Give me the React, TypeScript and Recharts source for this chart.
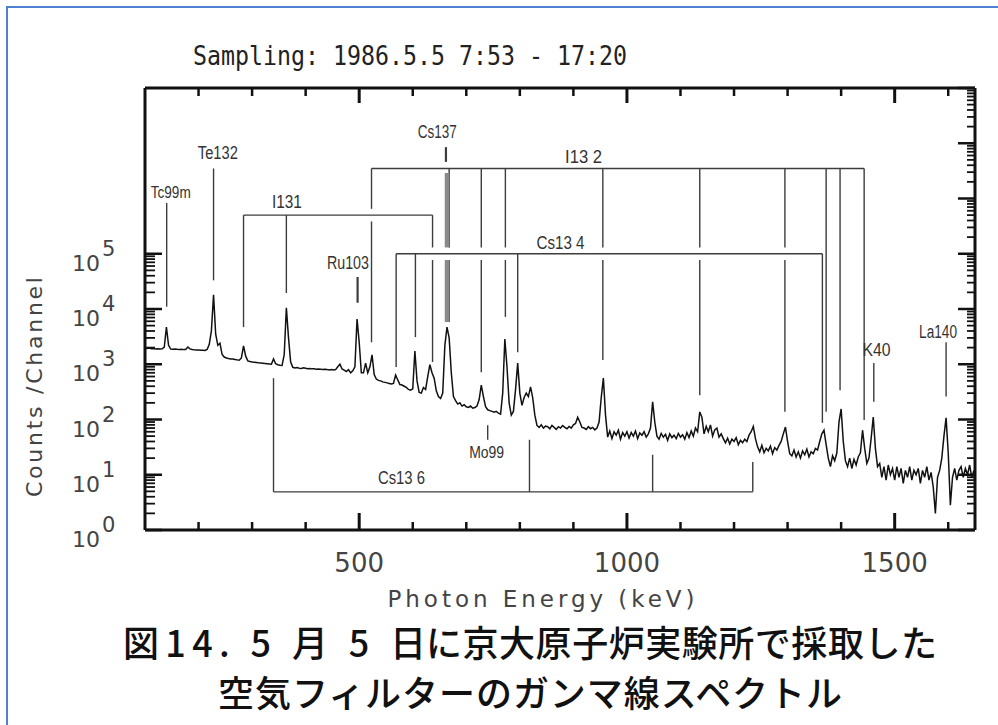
import React from 'react';
import { ComposedChart, Line, XAxis, YAxis, ReferenceLine, ReferenceDot } from 'recharts';

// ---------------- data ----------------
const STEP_KEV = 4;
const bandStarts = [100, 500, 1000, 1500];

// 100 – 496 keV
const countsLow = [
  1950, 1930, 1960, 1900, 1920, 1880, 1900, 1890, 1910, 2050, 4700, 2200,
  1880, 1870, 1890, 1860, 1850, 1870, 1840, 1850, 2050, 1900,
  1850, 1830, 1820, 1810, 1800, 1790, 1780,
  1850, 2300, 4000, 18000, 3500, 2200, 2400, 1500, 1350,
  1300, 1270, 1250, 1240, 1220, 1200, 1180,
  1300, 2150, 1400, 1150,
  1120, 1100, 1090, 1080, 1060, 1050, 1040, 1030, 1020, 1010, 1000,
  1250, 1020, 980, 960, 950,
  1500, 10500, 3000, 1100, 880, 860,
  870, 850, 840, 860, 845, 830, 840, 825, 830, 815, 820, 810, 800, 815, 800, 790, 805, 790, 800,
  900, 1000, 820, 780, 740, 800, 700, 760, 900, 6600,
];
// 500 – 996 keV
const countsMid = [
  2500, 700, 700, 1050, 700, 900, 1480, 650, 540,
  510, 500, 480, 470, 460, 450, 440, 450,
  640, 520, 430,
  420, 400, 380, 350, 340, 360,
  1740, 500, 310,
  300, 380, 350, 600, 980, 700, 560, 330, 260, 240, 300,
  2200, 4700, 3000, 700, 260,
  220, 190, 200, 175, 185, 170, 165, 175, 160, 165, 175,
  230, 420, 260, 170,
  150, 145, 140, 135, 140, 130, 125,
  300, 2870, 900, 200, 120,
  140, 350, 1050, 300, 180,
  250, 300, 260, 390, 250, 120,
  78, 72, 80, 70, 76, 74, 68, 78, 72, 66, 74, 70, 78, 72, 68, 75, 70, 80, 85, 110,
  90, 72, 70, 66, 74, 68, 72, 65, 70, 90,
  250, 560, 120,
  48, 62, 45, 60, 52, 64, 44, 58, 50,
];
// 1000 – 1496 keV
const countsHigh = [
  60, 46, 58, 50, 62, 45, 57, 52, 60, 48, 55, 70,
  208, 90, 50,
  44, 56, 48, 54, 42, 55, 47, 52, 45, 56, 48, 53, 44, 58, 47, 62, 50, 70, 60,
  137, 110, 55, 75, 60, 80, 50, 65, 70, 48, 55,
  45, 38, 46, 36, 44, 40, 47, 35, 42, 38, 44, 40, 52,
  60, 75, 45,
  32, 26, 34, 25, 30, 27, 33, 24, 31, 28, 34, 40,
  55, 73, 40, 24,
  22, 28, 21, 26, 20, 27, 23, 29, 21, 26, 24, 30, 28,
  40, 55, 64, 35, 20, 14, 22, 18, 25,
  90, 155, 40, 18,
  14, 20, 13, 19, 15, 21, 25,
  64, 30, 16, 20, 45, 111, 30, 14,
  16, 9, 14, 8, 15, 10, 13,
];
// 1500 – 1648 keV
const countsTop = [
  8, 14, 9, 13, 7, 12, 9, 14, 8, 12, 10, 13, 7, 12, 9, 14, 8, 11, 6, 2,
  9, 12, 20, 50, 107, 25, 2.8, 9, 13, 8, 12, 14, 9, 13, 10, 15, 9, 12,
];

const xTicks = [200, 300, 400, 500, 600, 700, 800, 900, 1000, 1100, 1200, 1300, 1400, 1500, 1600];
const decadeValues = [1, 10, 100, 1000, 10000, 100000, 1000000, 10000000, 100000000];
const minorMultipliers = [2, 3, 4, 5, 6, 7, 8, 9];

// single-line nuclide markers: energy (keV), lower and upper counts
const singleLines = [
  { name: 'Tc99m', e: 140.5, lo: 1.1e4, hi: 8.3e5 },
  { name: 'Te132', e: 228, lo: 3.3e4, hi: 3.5e6 },
  { name: 'Ru103', e: 497, lo: 1.3e4, hi: 3.8e4 },
  { name: 'Cs137', e: 662, lo: 4.6e6, hi: 8.5e6 },
  { name: 'Mo99', e: 740, lo: 43, hi: 79 },
  { name: 'K40', e: 1461, lo: 210, hi: 1050 },
  { name: 'La140', e: 1596, lo: 260, hi: 2500 },
];
const cs137Band = { e: 664, lo: 5.8e3, hi: 2.9e6 };

// bracket legs: [energy keV, end counts]
const i131Legs: [number, number][] = [[284, 4.7e3], [364, 1.95e4], [637, 1.1e3]];
const i132Legs: [number, number][] = [
  [523, 2.5e3], [668, 5.8e3], [728, 720], [773, 7.2e3], [955, 1.2e3],
  [1136, 275], [1295, 138], [1372, 138], [1398, 340], [1443, 98],
];
const cs134Legs: [number, number][] = [[569, 890], [605, 3.1e3], [796, 1.65e3], [1365, 87]];
const cs136Legs: [number, number][] = [[340, 560], [818, 43], [1048, 23], [1235, 17]];
const bracketLevels = { i131: 5.0e5, i132: 3.5e6, cs134: 1.0e5, cs136: 4.9 };

// label anchors (keV, counts)
const peakLabels = [
  { text: 'Tc99m', e: 148, c: 1.31e6 },
  { text: 'Te132', e: 236, c: 6.66e6 },
  { text: 'I131', e: 365, c: 8.65e5 },
  { text: 'Cs137', e: 646, c: 1.6e7 },
  { text: 'Ru103', e: 479, c: 6.8e4 },
  { text: 'I13 2', e: 919, c: 5.64e6 },
  { text: 'Cs13 4', e: 876, c: 1.57e5 },
  { text: 'K40', e: 1466, c: 1.81e3 },
  { text: 'La140', e: 1581, c: 3.84e3 },
  { text: 'Cs13 6', e: 579, c: 8.73 },
  { text: 'Mo99', e: 738, c: 25.8 },
];

// ---------------- styles ----------------
const labelWidths: Record<string, number> = {
  'Tc99m': 40, 'Te132': 40, 'I131': 30, 'Cs137': 39, 'Ru103': 42, 'I13 2': 37,
  'Cs13 4': 48, 'K40': 28, 'La140': 38, 'Cs13 6': 47, 'Mo99': 35,
};
const labelSizes: Record<string, number> = { 'Tc99m': 16, 'Mo99': 16 };
const FRAME = '#111';
const ANN = '#3c3c3c';
const TICK_FONT = "'DejaVu Sans', 'Liberation Sans', sans-serif";
const LABEL_FONT = "'Liberation Sans Narrow', 'Liberation Sans', sans-serif";

// ---------------- derived ----------------
const spectrum: { e: number; c: number }[] = [];
[countsLow, countsMid, countsHigh, countsTop].forEach((arr, k) => {
  arr.forEach((c, i) => spectrum.push({ e: bandStarts[k] + i * STEP_KEV, c }));
});

const leftTicks: number[] = [];
const rightTicks: number[] = [];
decadeValues.forEach((d, k) => {
  if (k <= 5) leftTicks.push(d);
  rightTicks.push(d);
  if (k < decadeValues.length - 1) {
    minorMultipliers.forEach((m) => {
      if (k <= 4) leftTicks.push(d * m);
      rightTicks.push(d * m);
    });
  }
});
const isDecade = (v: number) => decadeValues.some((d) => Math.abs(d - v) < d * 1e-6);

type Bracket = { key: string; level: number; legs: [number, number][]; from: number; to: number };
const mkBracket = (key: string, level: number, legs: [number, number][]): Bracket => ({
  key, level, legs,
  from: Math.min(...legs.map((l) => l[0])),
  to: Math.max(...legs.map((l) => l[0])),
});
const brackets: Bracket[] = [
  mkBracket('i131', bracketLevels.i131, i131Legs),
  mkBracket('i132', bracketLevels.i132, i132Legs),
  mkBracket('cs134', bracketLevels.cs134, cs134Legs),
  mkBracket('cs136', bracketLevels.cs136, cs136Legs),
];
const GAP = 1.3;
function legPieces(e: number, v1: number, v2: number, self: Bracket | null): [number, number][] {
  const lo = Math.min(v1, v2);
  const hi = Math.max(v1, v2);
  const cuts = brackets
    .filter((o) => o !== self && o.from < e && e < o.to && o.level > lo && o.level < hi)
    .map((o) => o.level)
    .sort((a, b) => a - b);
  const pieces: [number, number][] = [];
  let start = lo;
  cuts.forEach((c) => {
    pieces.push([start, c / GAP]);
    start = c * GAP;
  });
  pieces.push([start, hi]);
  return pieces;
}

// ---------------- ticks ----------------
function BottomTick(props: any) {
  const { x, y, payload } = props;
  const v = payload.value;
  const major = v % 500 === 0;
  return (
    <g>
      <line x1={x} y1={y} x2={x} y2={y - (major ? 17 : 8)} stroke={FRAME} strokeWidth={major ? 3 : 2.5} />
      {major ? (
        <text x={x} y={y + 42} textAnchor="middle" fontSize={26} fill="#444" fontFamily={TICK_FONT}>
          {v}
        </text>
      ) : null}
    </g>
  );
}
function TopTick(props: any) {
  const { x, y, payload } = props;
  const major = payload.value % 500 === 0;
  return <line x1={x} y1={y} x2={x} y2={y + (major ? 15 : 8)} stroke={FRAME} strokeWidth={major ? 3 : 2.5} />;
}
function LeftTick(props: any) {
  const { x, y, payload } = props;
  const v = payload.value;
  const major = isDecade(v);
  const exp = Math.round(Math.log10(v));
  return (
    <g>
      <line x1={x} y1={y} x2={x + (major ? 17 : 10)} y2={y} stroke={FRAME} strokeWidth={major ? 2.5 : 1.8} />
      {major ? (
        <text x={x - 73} y={y + 17} fontSize={22} fill="#444" fontFamily={TICK_FONT}>
          10
          <tspan dx={2} dy={-15} fontSize={21}>{exp}</tspan>
        </text>
      ) : null}
    </g>
  );
}
function RightTick(props: any) {
  const { x, y, payload } = props;
  const major = isDecade(payload.value);
  return <line x1={x} y1={y} x2={x - (major ? 17 : 8)} y2={y} stroke={FRAME} strokeWidth={major ? 2.5 : 1.8} />;
}

const seg = (e: number, a: number, b: number) => [{ x: e, y: a }, { x: e, y: b }] as any;

export default function App() {
  const refs: React.ReactNode[] = [];
  let k = 0;
  // brackets
  brackets.forEach((b) => {
    refs.push(
      <ReferenceLine key={`h${k++}`} xAxisId="b" yAxisId="l" ifOverflow="visible"
        segment={[{ x: b.from, y: b.level }, { x: b.to, y: b.level }] as any}
        stroke={ANN} strokeWidth={1.4} />
    );
    b.legs.forEach(([e, end]) => {
      legPieces(e, b.level, end, b).forEach(([lo, hi]) => {
        refs.push(
          <ReferenceLine key={`l${k++}`} xAxisId="b" yAxisId="l" ifOverflow="visible"
            segment={seg(e, lo, hi)} stroke={ANN} strokeWidth={1.4} />
        );
      });
    });
  });
  // Cs137 thick band
  legPieces(cs137Band.e, cs137Band.lo, cs137Band.hi, null).forEach(([lo, hi]) => {
    refs.push(
      <ReferenceLine key={`c${k++}`} xAxisId="b" yAxisId="l" ifOverflow="visible"
        segment={seg(cs137Band.e, lo, hi)} stroke="#8a8a8a" strokeWidth={4.5} />
    );
  });
  singleLines.forEach((s) => {
    refs.push(
      <ReferenceLine key={`s${k++}`} xAxisId="b" yAxisId="l" ifOverflow="visible"
        segment={seg(s.e, s.lo, s.hi)} stroke={ANN} strokeWidth={s.name === 'Cs137' || s.name === 'Ru103' ? 2.2 : 1.4} />
    );
  });

  return (
    <div style={{ position: 'absolute', left: 0, top: 0, width: 998, height: 725, background: '#fff', overflow: 'hidden' }}>
      <div style={{ position: 'absolute', left: 6, top: 6, width: 1200, height: 1000, border: '2px solid #4f80d2', boxSizing: 'border-box' }} />
      <div style={{ position: 'absolute', left: 0, top: 0 }}>
        <ComposedChart width={998} height={725} data={spectrum} margin={{ top: 78, right: 13, bottom: 165, left: 85 }}>
          <XAxis xAxisId="b" dataKey="e" type="number" domain={[100, 1650]} allowDataOverflow ticks={xTicks} interval={0}
            tickSize={0} tickMargin={0} tickLine={false} axisLine={{ stroke: FRAME, strokeWidth: 3 }} tick={BottomTick} height={30} />
          <XAxis xAxisId="t" orientation="top" dataKey="e" type="number" domain={[100, 1650]} allowDataOverflow ticks={xTicks} interval={0}
            tickSize={0} tickMargin={0} tickLine={false} axisLine={{ stroke: FRAME, strokeWidth: 3 }} tick={TopTick} height={10} />
          <YAxis yAxisId="l" type="number" scale="log" domain={[1, 1e8]} allowDataOverflow ticks={leftTicks} interval={0}
            tickSize={0} tickMargin={0} tickLine={false} axisLine={{ stroke: FRAME, strokeWidth: 3 }} tick={LeftTick} width={60} />
          <YAxis yAxisId="r" orientation="right" type="number" scale="log" domain={[1, 1e8]} allowDataOverflow ticks={rightTicks} interval={0}
            tickSize={0} tickMargin={0} tickLine={false} axisLine={{ stroke: FRAME, strokeWidth: 3 }} tick={RightTick} width={10} />
          {refs}
          <Line xAxisId="b" yAxisId="l" dataKey="c" type="linear" stroke="#111" strokeWidth={1.5} dot={false} isAnimationActive={false} />
          {peakLabels.map((lab) => (
            <ReferenceDot key={lab.text} xAxisId="b" yAxisId="l" x={lab.e} y={lab.c} r={1} ifOverflow="visible"
              shape={(p: any) => (
                <text x={p.cx} y={p.cy} dy="0.36em" textAnchor="middle" fontSize={labelSizes[lab.text] || 18}
                  fill="#333" fontFamily={LABEL_FONT} textLength={labelWidths[lab.text]} lengthAdjust="spacingAndGlyphs">
                  {lab.text}
                </text>
              )} />
          ))}
        </ComposedChart>
      </div>
      <svg width={998} height={725} style={{ position: 'absolute', left: 0, top: 0, pointerEvents: 'none' }}>
        <text x={193} y={65} fontFamily="'DejaVu Sans Mono', monospace" fontSize={27} fill="#222"
          textLength={434} lengthAdjust="spacingAndGlyphs">Sampling: 1986.5.5 7:53 - 17:20</text>
        <text transform="translate(42,387) rotate(-90)" textAnchor="middle" fontFamily={TICK_FONT} fontSize={22} fill="#444"
          textLength={220} lengthAdjust="spacing">Counts /Channel</text>
        <text x={541} y={607} textAnchor="middle" fontFamily={TICK_FONT} fontSize={23} fill="#444"
          textLength={307} lengthAdjust="spacing">Photon Energy (keV)</text>
        <text x={123} y={657} fontFamily="'Noto Sans CJK JP', sans-serif" fontWeight={500} fontSize={36} fill="#111"
          textLength={303} lengthAdjust="spacing">図14. 5 月 5 日</text>
        <text x={426} y={657} fontFamily="'Noto Sans CJK JP', sans-serif" fontWeight={500} fontSize={36} fill="#111"
          textLength={511} lengthAdjust="spacing">に京大原子炉実験所で採取した</text>
        <text x={218} y={707} fontFamily="'Noto Sans CJK JP', sans-serif" fontWeight={500} fontSize={36} fill="#111"
          textLength={624} lengthAdjust="spacing">空気フィルターのガンマ線スペクトル</text>
      </svg>
    </div>
  );
}
